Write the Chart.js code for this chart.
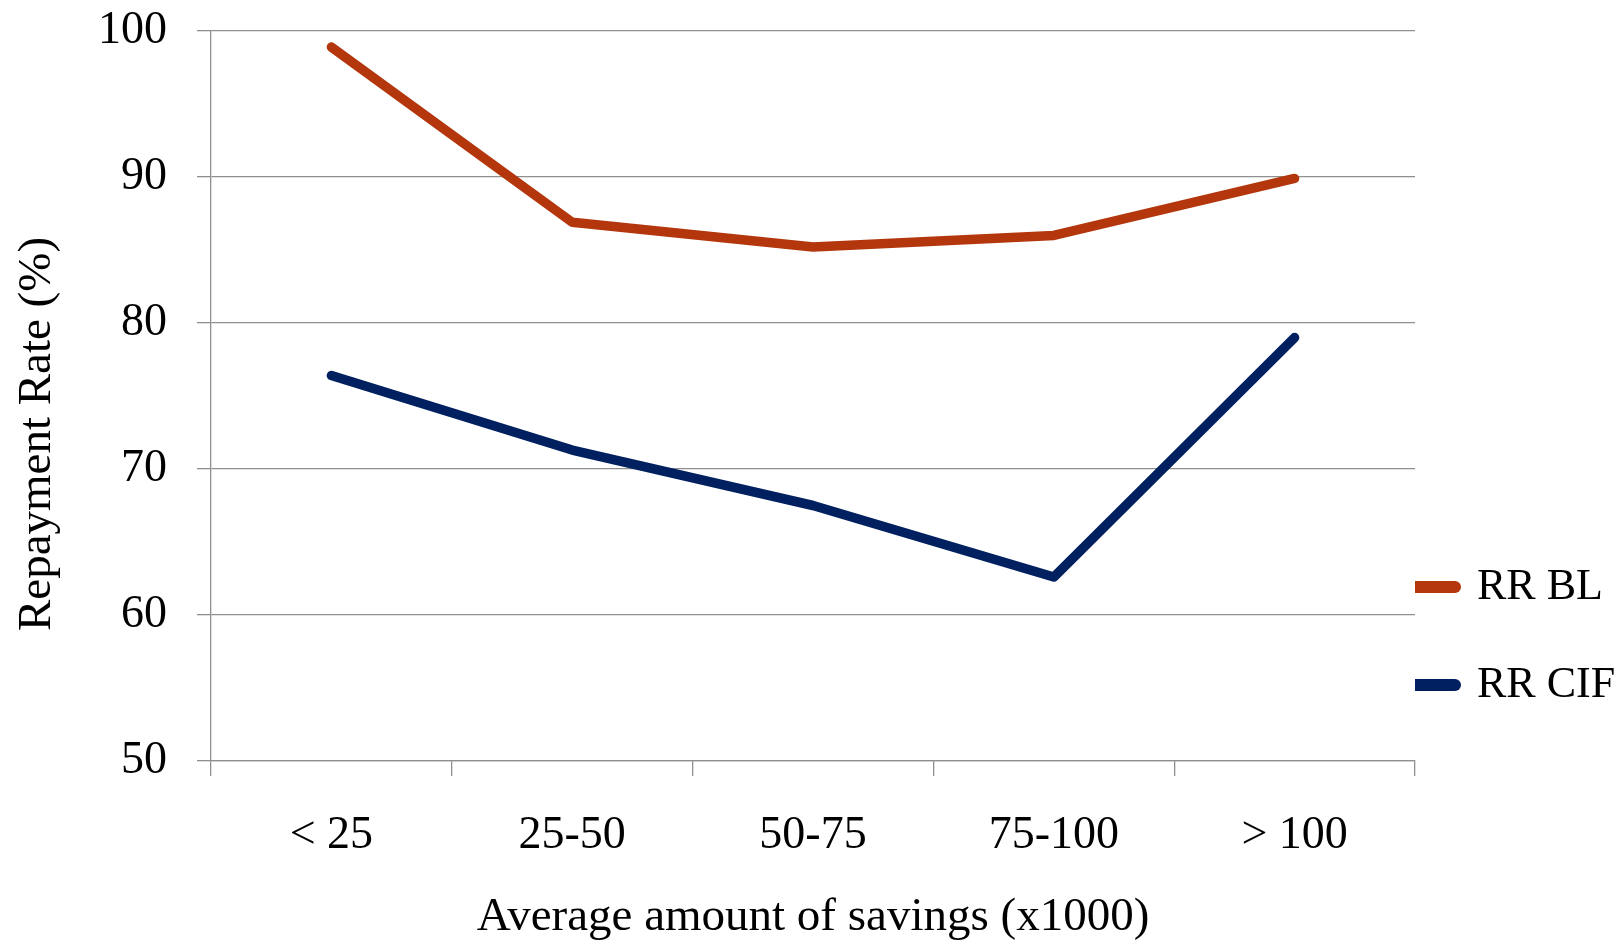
<!DOCTYPE html>
<html><head><meta charset="utf-8">
<script src="https://cdn.jsdelivr.net/npm/chart.js@4/dist/chart.umd.min.js"></script>
<style>html,body{margin:0;padding:0;background:#fff;overflow:hidden;}</style>
</head><body>
<canvas id="c" width="1623" height="947"></canvas>
<script>
const categories = ['< 25', '25-50', '50-75', '75-100', '> 100'];
const rrBL = [98.9, 86.9, 85.2, 86.0, 89.9];
const rrCIF = [76.4, 71.3, 67.5, 62.6, 79.0];
const seriesNames = ['RR BL', 'RR CIF'];
const seriesColors = ['#B3360C', '#00205F'];
const yTicks = [50, 60, 70, 80, 90, 100];
const xTitle = 'Average amount of savings (x1000)';
const yTitle = 'Repayment Rate (%)';

const FONT = '"Liberation Serif", "DejaVu Serif", serif';
const GRID = '#8f8f8f';

const yTitlePlugin = {
  id: 'yTitle',
  afterDraw(chart) {
    const ctx = chart.ctx;
    ctx.save();
    ctx.translate(50, 434);
    ctx.rotate(-Math.PI / 2);
    ctx.font = '47px ' + FONT;
    ctx.fillStyle = '#000';
    ctx.textAlign = 'center';
    ctx.textBaseline = 'alphabetic';
    ctx.fillText(yTitle, 0, 0);
    ctx.restore();
  }
};

new Chart(document.getElementById('c'), {
  type: 'line',
  data: {
    labels: categories,
    datasets: [
      { label: seriesNames[0], data: rrBL, borderColor: seriesColors[0], backgroundColor: seriesColors[0],
        borderWidth: 9.5, borderCapStyle: 'round', borderJoinStyle: 'round', pointRadius: 0, fill: false, tension: 0 },
      { label: seriesNames[1], data: rrCIF, borderColor: seriesColors[1], backgroundColor: seriesColors[1],
        borderWidth: 9.5, borderCapStyle: 'round', borderJoinStyle: 'round', pointRadius: 0, fill: false, tension: 0 }
    ]
  },
  options: {
    responsive: false,
    animation: false,
    layout: { padding: { top: 31, left: 0, right: 0, bottom: 0 } },
    plugins: {
      tooltip: { enabled: false },
      legend: {
        position: 'right',
        align: 'end',
        fullSize: false,
        maxWidth: 208,
        labels: {
          usePointStyle: true,
          pointStyle: 'line',
          pointStyleWidth: 46,
          padding: -6,
          color: '#000',
          font: { family: FONT, size: 44, lineHeight: 104 / 44 },
          generateLabels(chart) {
            return chart.data.datasets.map((ds, i) => ({
              text: [ds.label],
              strokeStyle: ds.borderColor,
              fillStyle: ds.borderColor,
              lineWidth: 12,
              lineCap: 'round',
              pointStyle: 'line',
              hidden: false,
              fontColor: '#000',
              datasetIndex: i
            }));
          }
        }
      }
    },
    scales: {
      x: {
        type: 'category',
        offset: true,
        grid: { offset: true, drawOnChartArea: false, drawTicks: true, tickLength: 15, color: GRID, lineWidth: 1.3 },
        border: { display: true, color: GRID, width: 1.3 },
        ticks: { font: { family: FONT, size: 46 }, color: '#000', padding: 32, maxRotation: 0, autoSkip: false },
        title: { display: true, text: xTitle, font: { family: FONT, size: 47 }, color: '#000', padding: { top: 0, bottom: 1 } },
        afterFit(s) { s.height = 186; s.paddingLeft = 0; s.paddingRight = 0; }
      },
      y: {
        min: 50, max: 100,
        afterBuildTicks(s) { s.ticks = yTicks.map(v => ({ value: v })); },
        ticks: { font: { family: FONT, size: 46 }, color: '#000', padding: 30 },
        grid: { color: GRID, lineWidth: 1.3, tickLength: 14, drawTicks: true },
        border: { display: true, color: GRID, width: 1.3 },
        afterFit(s) { s.width = 211; s.paddingTop = 0; s.paddingBottom = 0; }
      }
    }
  },
  plugins: [yTitlePlugin]
});
</script>
</body></html>
